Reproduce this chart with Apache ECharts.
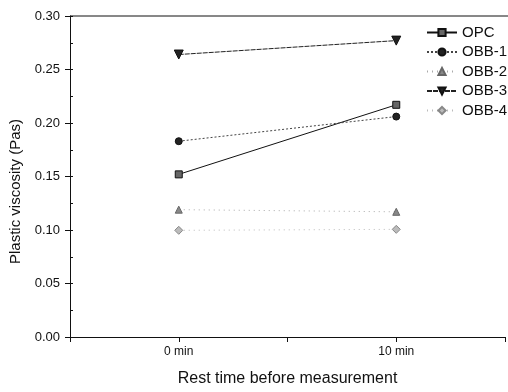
<!DOCTYPE html>
<html><head><meta charset="utf-8">
<script src="https://cdn.jsdelivr.net/npm/echarts@6/dist/echarts.min.js"></script>
<style>html,body{margin:0;padding:0;background:#fff}#c{width:508px;height:392px}</style>
</head><body><div id="c"></div>
<script>
const restTimes = [0, 10];
const xTickLabels = {0: '0 min', 10: '10 min'};
const seriesNames = ['OPC', 'OBB-1', 'OBB-2', 'OBB-3', 'OBB-4'];
const opc  = [0.152, 0.217];
const obb1 = [0.183, 0.206];
const obb2 = [0.119, 0.117];
const obb3 = [0.264, 0.277];
const obb4 = [0.0997, 0.1006];
const yTicks = [0, 0.05, 0.10, 0.15, 0.20, 0.25, 0.30];

const font = 'Liberation Sans, Arial, sans-serif';
const styles = [
  {sym:'rect', size:7, fill:'#666', border:'#111', line:'#111', type:'solid', lw:1},
  {sym:'circle', size:7, fill:'#222', border:'#111', line:'#444', type:[2,2], lw:1},
  {sym:'triangle', size:7, fill:'#888', border:'#666', line:'#aaa', type:[1,4], lw:1},
  {sym:'path://M0,0 L10,0 L5,9 Z', size:9, fill:'#222', border:'#111', line:'#222', type:[5,1], lw:1},
  {sym:'diamond', size:8, fill:'#bbb', border:'#888', line:'#bbb', type:[1,4], lw:1}
];
const dataSets = [opc, obb1, obb2, obb3, obb4];
const series = seriesNames.map((n, i) => ({
  name: n, type: 'line',
  data: restTimes.map((t, j) => [t, dataSets[i][j]]),
  symbol: styles[i].sym, symbolSize: styles[i].size,
  itemStyle: {color: styles[i].fill, borderColor: styles[i].border, borderWidth: 1},
  lineStyle: {color: styles[i].line, type: styles[i].type, width: styles[i].lw},
  emphasis: {disabled: true}, animation: false
}));

const chart = echarts.init(document.getElementById('c'), null, {renderer: 'canvas'});
chart.setOption({
  animation: false,
  backgroundColor: '#fff',
  grid: {left: 70, top: 16, right: -2, bottom: 50},
  legend: {
    orient: 'vertical', left: 421, top: 20, itemWidth: 30, itemHeight: 9, itemGap: 4.5,
    textStyle: {fontFamily: font, fontSize: 15, color: '#111'},
    data: seriesNames
  },
  xAxis: {
    type: 'value', min: -5, max: 15, interval: 5,
    axisLine: {onZero: false, lineStyle: {color: '#111', width: 1}},
    axisTick: {show: true, inside: false, length: 5, lineStyle: {color: '#111'}},
    axisLabel: {formatter: v => xTickLabels[v] || '', fontFamily: font, fontSize: 12, color: '#111', margin: 9},
    splitLine: {show: false},
    name: 'Rest time before measurement', nameLocation: 'middle', nameGap: 34,
    nameTextStyle: {fontFamily: font, fontSize: 16, color: '#111'}
  },
  yAxis: [{
    type: 'value', min: 0, max: 0.30, interval: 0.05,
    axisLine: {show: true, onZero: false, lineStyle: {color: '#111', width: 1}},
    axisTick: {show: true, inside: false, length: 5, lineStyle: {color: '#111'}},
    axisLabel: {formatter: v => v.toFixed(2), fontFamily: font, fontSize: 13, color: '#111', margin: 10},
    splitLine: {show: false},
    name: 'Plastic viscosity (Pas)', nameLocation: 'middle', nameGap: 47, nameRotate: 90,
    nameTextStyle: {fontFamily: font, fontSize: 15, color: '#111', padding: [0, 30, 0, 0]}
  }, {
    type: 'value', min: 0, max: 0.30, interval: 0.025, position: 'left',
    axisLine: {show: false, onZero: false}, axisLabel: {show: false}, splitLine: {show: false},
    axisTick: {show: true, inside: true, length: 3, lineStyle: {color: '#111'}}
  }],
  graphic: [{
    type: 'line', shape: {x1: 70, y1: 16, x2: 508, y2: 16},
    style: {stroke: '#111', lineWidth: 1}, silent: true
  }],
  series: series
});
</script></body></html>
